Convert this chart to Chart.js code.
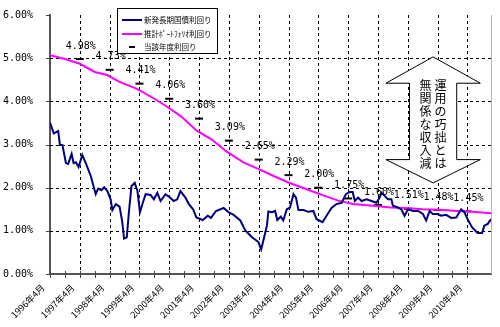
<!DOCTYPE html>
<html lang="ja">
<head>
<meta charset="utf-8">
<script src="https://cdn.jsdelivr.net/npm/chart.js@4"></script>
<style>
  html, body { margin: 0; padding: 0; background: #fff; }
  #chart { display: block; }
</style>
</head>
<body>
<canvas id="chart" width="500" height="327"></canvas>
<script>
// x は 1996年4月 からの経過月数
const blueMonths = [0,1.5,3.3,4,5,6.4,7.3,8.7,9.5,10.4,11.5,13,14.4,16.4,18.4,19.4,20.7,21.8,23.1,24.4,25.1,26.5,28,29.1,29.8,30.9,31.8,32.8,34.1,35.2,36.2,37.2,38.5,40.5,41.8,43.2,44.5,46.5,48.5,49.8,51.2,52.5,54.5,55.9,57.6,58.9,61.5,63.5,64.8,66.8,69.9,71.9,73.9,76.6,78.6,81.3,83.9,85,85.9,87.3,87.9,89.3,90.6,91.5,92.9,93.9,95.3,96.6,98,99,100,102,104,106,107.3,109.7,111.3,113.3,115.3,117.4,119.1,120.7,121.8,122.7,124,125.4,127.4,129.4,131.4,132.7,133.4,134.7,136,137.4,138,140,141.4,142.7,144.1,146.1,148.1,150.1,151.4,152.8,154.1,156.1,157.4,159.4,161.5,163.5,165.5,166.8,168.1,169.9,172.1,173.9,174.8,176.2,177.5];
const blueValues = [3.51,3.26,3.31,2.99,2.99,2.57,2.55,2.78,2.57,2.59,2.48,2.76,2.57,2.27,1.85,1.98,1.94,2.01,1.92,1.73,1.48,1.62,1.56,1.20,0.82,0.85,1.46,2.04,2.11,1.92,1.43,1.62,1.85,1.83,1.73,1.88,1.69,1.85,1.76,1.69,1.73,1.92,1.77,1.62,1.50,1.31,1.25,1.35,1.30,1.46,1.53,1.43,1.37,1.24,1.01,0.85,0.74,0.57,0.78,1.12,1.45,1.43,1.46,1.25,1.33,1.24,1.50,1.54,1.85,1.77,1.48,1.48,1.44,1.46,1.27,1.20,1.35,1.53,1.62,1.65,1.85,1.90,1.90,1.69,1.77,1.69,1.73,1.69,1.65,1.77,1.88,1.81,1.73,1.73,1.58,1.54,1.50,1.35,1.50,1.46,1.46,1.39,1.24,1.46,1.39,1.39,1.35,1.37,1.30,1.31,1.50,1.43,1.27,1.08,0.95,0.95,1.12,1.16,1.27];
const pinkMonths = [0,6,12,18,23,28,35,42,47,53,59,65,71,78,84,90,96,103,110,116,122,130,137,143,150,157,164,170,177.5];
const pinkValues = [5.07,4.98,4.87,4.68,4.61,4.45,4.29,4.06,3.88,3.64,3.32,3.12,2.84,2.58,2.43,2.27,2.12,1.97,1.82,1.70,1.62,1.58,1.54,1.53,1.50,1.49,1.46,1.44,1.41];
const fyMonths = [12,24,36,48,60,72,84,96,108,120,132,144,156,168];
const fyValues = [4.98,4.73,4.41,4.06,3.60,3.09,2.65,2.29,2.00,1.75,1.60,1.51,1.48,1.45];
const seriesNames = ["新発長期国債利回り", "推計ﾎﾟｰﾄﾌｫﾘｵ利回り", "当該年度利回り"];
const xTickLabels = ["1996年4月","1997年4月","1998年4月","1999年4月","2000年4月","2001年4月","2002年4月","2003年4月","2004年4月","2005年4月","2006年4月","2007年4月","2008年4月","2009年4月","2010年4月"];
const arrowTextRight = "運用の巧拙とは";
const arrowTextLeft = "無関係な収入減";

const toPoints = (xs, ys) => xs.map((x, i) => ({ x, y: ys[i] }));
const numFont = "'DejaVu Sans Mono', monospace";
const jpFont = "'Noto Sans CJK JP', sans-serif";

// 点線のグリッドと目盛り線
const dashedGridPlugin = {
    id: "dashedGrid",
    beforeDatasetsDraw(chart) {
        const { ctx, chartArea: a, scales: { x, y } } = chart;
        ctx.save();
        ctx.strokeStyle = "#000";
        ctx.lineWidth = 1;
        ctx.setLineDash([3, 3]);
        y.ticks.forEach(t => {
            if (t.value <= 0 || t.value >= 6) return;
            const py = Math.round(y.getPixelForValue(t.value)) + 0.5;
            ctx.beginPath();
            ctx.moveTo(a.left, py);
            ctx.lineTo(a.right, py);
            ctx.stroke();
        });
        x.ticks.forEach(t => {
            if (t.value <= 0 || t.value % 12 !== 0) return;
            const px = Math.round(x.getPixelForValue(t.value)) + 0.5;
            ctx.beginPath();
            ctx.moveTo(px, a.top);
            ctx.lineTo(px, a.bottom);
            ctx.stroke();
        });
        ctx.setLineDash([]);
        ctx.strokeStyle = "#444";
        y.ticks.forEach(t => {
            const py = Math.round(y.getPixelForValue(t.value)) + 0.5;
            ctx.beginPath();
            ctx.moveTo(a.left - 4, py);
            ctx.lineTo(a.left, py);
            ctx.stroke();
        });
        x.ticks.forEach(t => {
            if (t.value % 6 !== 0) return;
            const px = Math.round(x.getPixelForValue(t.value)) + 0.5;
            ctx.beginPath();
            ctx.moveTo(px, a.bottom - 3);
            ctx.lineTo(px, a.bottom + 4);
            ctx.stroke();
        });
        // プロット右端の枠線
        ctx.strokeStyle = "#b0b0b0";
        ctx.beginPath();
        ctx.moveTo(a.right + 0.5, a.top);
        ctx.lineTo(a.right + 0.5, a.bottom);
        ctx.stroke();
        ctx.restore();
    }
};

// x軸ラベル（45度回転）
const xLabelPlugin = {
    id: "xLabels",
    afterDraw(chart) {
        const { ctx, chartArea: a, scales: { x } } = chart;
        ctx.save();
        ctx.font = "9px " + jpFont;
        ctx.fillStyle = "#000";
        ctx.textAlign = "right";
        ctx.textBaseline = "middle";
        xTickLabels.forEach((lab, i) => {
            const px = x.getPixelForValue(i * 12);
            ctx.save();
            ctx.translate(px - 7, a.bottom + 12);
            ctx.rotate(-Math.PI / 4);
            ctx.fillText(lab, 0, 0);
            ctx.restore();
        });
        ctx.restore();
    }
};

// 当該年度利回りのラベル
const fyLabelPlugin = {
    id: "fyLabels",
    afterDatasetsDraw(chart) {
        const ctx = chart.ctx;
        const meta = chart.getDatasetMeta(2);
        ctx.save();
        ctx.font = "10px " + numFont;
        ctx.fillStyle = "#000";
        ctx.textAlign = "center";
        ctx.textBaseline = "middle";
        meta.data.forEach((pt, i) => {
            ctx.fillText(fyValues[i].toFixed(2) + "%", pt.x + 1, pt.y - 13);
        });
        ctx.restore();
    }
};

// 上下矢印と縦書きの注記
const arrowPlugin = {
    id: "arrowNote",
    afterDatasetsDraw(chart) {
        const { ctx, scales: { x, y } } = chart;
        const cx = x.getPixelForValue(154.2);
        const head = x.getPixelForValue(154.2 + 19) - cx;
        const shaft = x.getPixelForValue(154.2 + 9.5) - cx;
        const yTop = y.getPixelForValue(5.03);
        const yTopBase = y.getPixelForValue(4.42);
        const yBotBase = y.getPixelForValue(2.65);
        const yBot = y.getPixelForValue(2.11);
        ctx.save();
        ctx.beginPath();
        ctx.moveTo(cx, yTop);
        ctx.lineTo(cx + head, yTopBase);
        ctx.lineTo(cx + shaft, yTopBase);
        ctx.lineTo(cx + shaft, yBotBase);
        ctx.lineTo(cx + head, yBotBase);
        ctx.lineTo(cx, yBot);
        ctx.lineTo(cx - head, yBotBase);
        ctx.lineTo(cx - shaft, yBotBase);
        ctx.lineTo(cx - shaft, yTopBase);
        ctx.lineTo(cx - head, yTopBase);
        ctx.closePath();
        ctx.fillStyle = "#fff";
        ctx.fill();
        ctx.strokeStyle = "#000";
        ctx.lineWidth = 1;
        ctx.stroke();

        ctx.font = "12px " + jpFont;
        ctx.fillStyle = "#000";
        ctx.textAlign = "center";
        ctx.textBaseline = "middle";
        const step = 13;
        const y0 = yTopBase + 2;
        [...arrowTextRight].forEach((c, i) => ctx.fillText(c, cx + 7.5, y0 + i * step));
        [...arrowTextLeft].forEach((c, i) => ctx.fillText(c, cx - 7.5, y0 + i * step));
        ctx.restore();
    }
};

// 凡例（プロット内の枠）
const boxLegendPlugin = {
    id: "boxLegend",
    afterDraw(chart) {
        const ctx = chart.ctx;
        const left = 117, top = 8, w = 100, h = 45;
        ctx.save();
        ctx.fillStyle = "#fff";
        ctx.fillRect(left, top, w, h);
        ctx.strokeStyle = "#000";
        ctx.lineWidth = 1;
        ctx.strokeRect(left + 0.5, top + 0.5, w, h);

        const rows = [top + 12, top + 26, top + 39];
        chart.data.datasets.forEach((ds, i) => {
            const yy = rows[i];
            ctx.strokeStyle = ds.borderColor;
            ctx.lineWidth = 2;
            ctx.beginPath();
            if (i < 2) {
                ctx.moveTo(left + 5, yy);
                ctx.lineTo(left + 25, yy);
            } else {
                ctx.moveTo(left + 12, yy);
                ctx.lineTo(left + 18, yy);
            }
            ctx.stroke();
            ctx.font = "7.5px " + jpFont;
            ctx.fillStyle = "#000";
            ctx.textBaseline = "middle";
            ctx.fillText(seriesNames[i], left + 27, yy);
        });
        ctx.restore();
    }
};

const ctx = document.getElementById("chart").getContext("2d");
new Chart(ctx, {
    type: "line",
    data: {
        datasets: [{
            label: seriesNames[0],
            data: toPoints(blueMonths, blueValues),
            borderColor: "#000080",
            borderWidth: 2,
            pointRadius: 0,
            tension: 0
        }, {
            label: seriesNames[1],
            data: toPoints(pinkMonths, pinkValues),
            borderColor: "#ff00ff",
            borderWidth: 2,
            pointRadius: 0,
            tension: 0
        }, {
            label: seriesNames[2],
            data: toPoints(fyMonths, fyValues),
            showLine: false,
            borderColor: "#000",
            pointStyle: "line",
            pointRadius: 4,
            pointBorderWidth: 2,
            pointBorderColor: "#000"
        }]
    },
    options: {
        responsive: false,
        animation: false,
        layout: { padding: { top: 12, right: 9, left: 0, bottom: 0 } },
        plugins: {
            legend: { display: false },
            tooltip: { enabled: false }
        },
        scales: {
            x: {
                type: "linear",
                min: 0,
                max: 177.5,
                afterFit: s => {
                    s.height = 53;
                    s.paddingLeft = 0;
                    s.paddingRight = 0;
                },
                ticks: { stepSize: 6, autoSkip: false, display: false },
                grid: { display: false },
                border: { display: true, color: "#555", width: 2 }
            },
            y: {
                min: 0,
                max: 6,
                afterFit: s => { s.width = 50; },
                ticks: {
                    stepSize: 1,
                    padding: 9,
                    color: "#000",
                    font: { family: numFont, size: 10 },
                    callback: v => v.toFixed(2) + "%"
                },
                grid: { display: false },
                border: { display: true, color: "#555", width: 2 }
            }
        }
    },
    plugins: [dashedGridPlugin, fyLabelPlugin, arrowPlugin, boxLegendPlugin, xLabelPlugin]
});
</script>
</body>
</html>
